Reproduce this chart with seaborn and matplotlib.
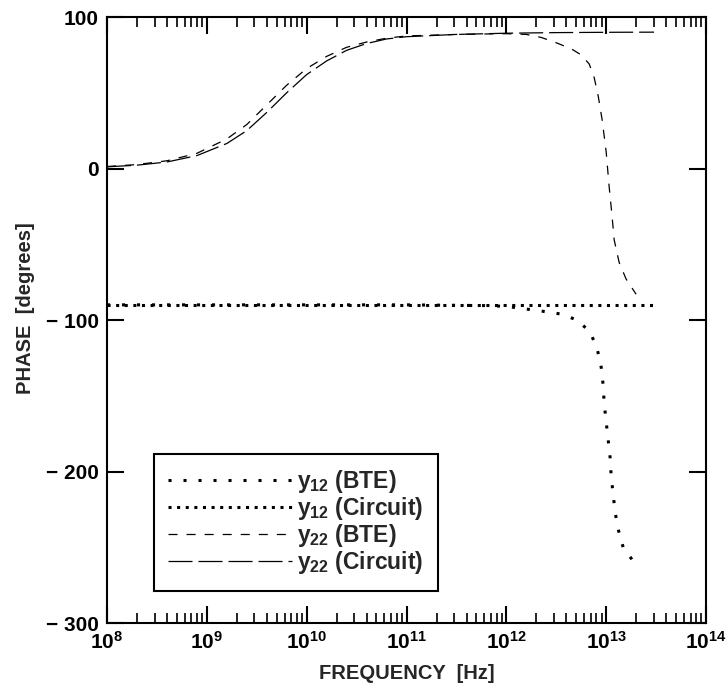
import matplotlib
matplotlib.use("Agg")
import matplotlib.pyplot as plt
import numpy as np
import pandas as pd
import seaborn as sns
from matplotlib.ticker import LogLocator, NullFormatter, FixedLocator
from matplotlib.lines import Line2D

# Frequencies are stored as log10(f / Hz); phases in degrees.
y12_bte_logf = [8.0, 10.0, 11.0, 11.8, 12.0, 12.18, 12.36, 12.54, 12.71, 12.84,
                12.91, 12.95, 12.97, 12.98, 13.0, 13.02, 13.04, 13.05, 13.07,
                13.09, 13.12, 13.17, 13.28]
y12_bte_phase = [-90, -90, -90, -90.5, -91, -92.6, -94.2, -96, -100, -108,
                 -119, -131, -143, -155, -167, -179, -191, -203, -215,
                 -227, -238, -250, -260]

y12_cir_logf = [8.0, 9.0, 10.0, 11.0, 12.0, 13.0, 13.48]
y12_cir_phase = [-90, -90, -90, -90, -90, -90, -90]

y22_bte_logf = [8.0, 8.3, 8.6, 8.9, 9.2, 9.4, 9.6, 9.8, 10.0, 10.2, 10.4, 10.6,
                10.8, 11.0, 11.5, 12.0, 12.2, 12.35, 12.5, 12.65, 12.75, 12.83,
                12.88, 12.92, 12.96, 13.0, 13.03, 13.06, 13.08, 13.13, 13.2, 13.3]
y22_bte_phase = [1.3, 2.6, 5.1, 10, 19.5, 29, 42, 55, 66, 74, 80, 83.5,
                 86, 87.5, 88.5, 89, 88.5, 86.5, 83, 79, 75, 69,
                 60, 48, 32, 11, -12, -32, -47, -62, -73, -83]

y22_cir_logf = [8.0, 8.3, 8.6, 8.9, 9.2, 9.4, 9.6, 9.8, 10.0, 10.2, 10.4, 10.6,
                10.8, 11.0, 11.5, 12.0, 12.5, 13.0, 13.48]
y22_cir_phase = [1.1, 2.2, 4.3, 8.5, 16.5, 25, 37, 50, 62, 71, 78, 82.5,
                 85.5, 87, 88.5, 89.3, 89.7, 89.9, 90]

labels = [r"y$_{12}$ (BTE)", r"y$_{12}$ (Circuit)",
          r"y$_{22}$ (BTE)", r"y$_{22}$ (Circuit)"]
y_ticks = [100, 0, -100, -200, -300]
y_tick_labels = ["100", "0", "\u2212 100", "\u2212 200", "\u2212 300"]
x_ticks_exp = [8, 9, 10, 11, 12, 13, 14]

sns.set_style("ticks")
plt.rcParams.update({
    "font.family": ["Liberation Sans", "DejaVu Sans"],
    "font.weight": "bold",
    "font.size": 15,
    "mathtext.fontset": "custom",
    "mathtext.rm": "Liberation Sans:bold",
    "mathtext.it": "Liberation Sans:bold",
    "mathtext.bf": "Liberation Sans:bold",
    "lines.scale_dashes": False,
    "axes.edgecolor": "black",
    "axes.linewidth": 1.5,
    "xtick.color": "black",
    "ytick.color": "black",
})

fig = plt.figure(figsize=(7.27, 6.94), dpi=100)
ax = fig.add_axes([0.1472, 0.1023, 0.8239, 0.8732])

def frame(logf, phase):
    return pd.DataFrame({"freq": np.power(10.0, logf), "phase": phase})

styles = [
    dict(lw=2.2, ls=(0, (2.2, 8.6))),
    dict(lw=2.2, ls=(0, (2.2, 4.0))),
    dict(lw=0.9, ls=(0, (6.5, 6.5))),
    dict(lw=0.9, ls=(0, (17.3, 4.3))),
]
series = [(y12_bte_logf, y12_bte_phase), (y12_cir_logf, y12_cir_phase),
          (y22_bte_logf, y22_bte_phase), (y22_cir_logf, y22_cir_phase)]

handles = []
for (lf, ph), st in zip(series, styles):
    sns.lineplot(data=frame(lf, ph), x="freq", y="phase", ax=ax,
                 color="black", linewidth=st["lw"], linestyle=st["ls"],
                 estimator=None, sort=True)
    handles.append(Line2D([], [], color="black", linewidth=st["lw"],
                          linestyle=st["ls"]))

ax.set_xscale("log")
ax.set_xlim(1e8, 1e14)
ax.set_ylim(-300, 100)

ax.xaxis.set_major_locator(FixedLocator([10.0 ** e for e in x_ticks_exp]))
ax.set_xticklabels([rf"$10^{{{e}}}$" for e in x_ticks_exp])
ax.xaxis.set_minor_locator(LogLocator(base=10, subs=np.arange(2, 10), numticks=100))
ax.xaxis.set_minor_formatter(NullFormatter())
ax.set_yticks(y_ticks)
ax.set_yticklabels(y_tick_labels)

ax.tick_params(which="both", direction="in", top=True, right=True,
               labelsize=15)
ax.tick_params(which="major", length=12, width=1.5)
ax.tick_params(which="minor", length=7, width=1.2)
ax.tick_params(axis="x", which="major", pad=6)
ax.tick_params(axis="y", which="major", pad=6)

ax.set_xlabel("FREQUENCY  [Hz]", fontsize=14.5, fontweight="bold", labelpad=8)
ax.set_ylabel("PHASE  [degrees]", fontsize=14.5, fontweight="bold")
ax.yaxis.set_label_coords(-0.12, 0.52)

leg = ax.legend(handles, labels, loc="lower left",
                bbox_to_anchor=(0.0785, 0.053), borderaxespad=0,
                frameon=True, fancybox=False, edgecolor="black",
                framealpha=1, fontsize=16.5, handlelength=5.4,
                handletextpad=0.2, labelspacing=0.0, borderpad=0.63)
leg.get_frame().set_linewidth(1.5)

fig.savefig("out.png", dpi=100)
